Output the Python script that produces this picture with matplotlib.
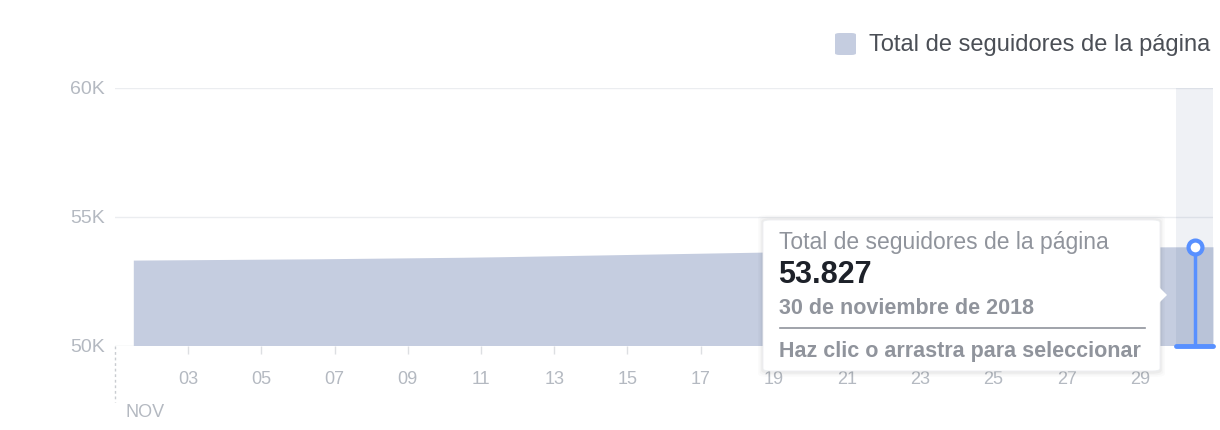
import numpy as np
import matplotlib
matplotlib.use("Agg")
import matplotlib.pyplot as plt
from matplotlib.patches import FancyBboxPatch, Polygon
from matplotlib.lines import Line2D

plt.rcParams["font.family"] = ["Liberation Sans", "DejaVu Sans"]

# daily total page followers, November 2018
days = list(range(1, 31))
followers = [53310, 53320, 53330, 53340, 53350, 53360, 53375, 53390, 53405, 53420,
             53440, 53465, 53490, 53515, 53540, 53565, 53590, 53615, 53640, 53665,
             53690, 53715, 53740, 53760, 53780, 53795, 53810, 53818, 53823, 53827]
tick_days = list(range(3, 30, 2))
tick_labels = [f"{d:02d}" for d in tick_days]
y_ticks = [50000, 55000, 60000]
y_labels = ["50K", "55K", "60K"]
month_label = "NOV"
series_name = "Total de seguidores de la página"
selected_day = 30
selected_date = "30 de noviembre de 2018"
hint_text = "Haz clic o arrastra para seleccionar"

AREA = "#c5cde0"
GRID = "#ebedf0"
LABEL = "#b4b9c1"
TIP = "#90949c"
BLUE = "#5890ff"
W, H = 1220, 430


def fx(px):
    return px / W


def fy(py):
    return 1 - py / H


fig = plt.figure(figsize=(W / 100, H / 100), dpi=100)
ax = fig.add_axes([fx(115), fy(345.5), fx(1213) - fx(115), fy(87.5) - fy(345.5)])

x = np.array(days) + 0.5
y = np.array(followers)
# last day's block runs to the end of the axis
x_fill = np.append(x, x[-1] + 0.5)
y_fill = np.append(y, y[-1])
ax.fill_between(x_fill, 50000, y_fill, color=AREA, lw=0, zorder=2)

ax.set_xlim(1, 31)
ax.set_ylim(50000, 60000)

# selected-day highlight band
ax.axvspan(selected_day, selected_day + 1, color="#2a4a80", alpha=0.075, lw=0, zorder=3)

for v in y_ticks[1:]:
    ax.axhline(v, color=GRID, lw=1, zorder=1)
ax.axhline(50000, color="#e4e6ea", lw=1, zorder=1)

for s in ax.spines.values():
    s.set_visible(False)

ax.set_xticks(tick_days)
ax.set_xticklabels(tick_labels)
ax.set_yticks(y_ticks)
ax.set_yticklabels(y_labels)
ax.tick_params(axis="x", length=6, width=1, color="#dddfe2", labelcolor=LABEL,
               labelsize=13, pad=12)
ax.tick_params(axis="y", length=0, labelcolor=LABEL, labelsize=14, pad=7.5)

# dashed month separator and label
ax.plot([1, 1], [50000, 47800], color="#c9ccd1", lw=1, ls=(0, (2, 2)),
        clip_on=False, zorder=1)
ax.text(1.3, 47400, month_label, color=LABEL, fontsize=13, ha="left", va="center")

# selector
sel_x = selected_day + 0.5
sel_y = followers[days.index(selected_day)]
ax.plot([sel_x, sel_x], [50000, sel_y], color=BLUE, lw=2.5, zorder=5, solid_capstyle="butt")
ax.plot([selected_day, selected_day + 1], [50000, 50000], color=BLUE, lw=3.5,
        zorder=5, clip_on=False, solid_capstyle="round")
ax.plot([sel_x], [sel_y], marker="o", ms=10, mfc="white", mec=BLUE, mew=3, zorder=6)

# legend
fig.patches.append(FancyBboxPatch((fx(835), fy(55)), fx(856) - fx(835), fy(33) - fy(55),
                                  boxstyle="round,pad=0,rounding_size=0.004",
                                  transform=fig.transFigure, fc=AREA, ec="none"))
fig.text(fx(869), fy(45), series_name, fontsize=17, color="#4b4f56", va="center", ha="left")

# tooltip shadow + box
for i, a in enumerate([0.015, 0.025, 0.035]):
    g = 5 - i * 1.6
    fig.patches.append(FancyBboxPatch((fx(763 - g), fy(371 + g + 1)),
                                      fx(1160 + g) - fx(763 - g), fy(220 - g) - fy(371 + g + 1),
                                      boxstyle="round,pad=0,rounding_size=0.008",
                                      transform=fig.transFigure, fc="black", ec="none",
                                      alpha=a, zorder=8))
fig.patches.append(FancyBboxPatch((fx(763), fy(371)), fx(1160) - fx(763), fy(220) - fy(371),
                                  boxstyle="round,pad=0,rounding_size=0.006",
                                  transform=fig.transFigure, fc="white", ec="#eceef1",
                                  lw=0.6, zorder=9))
fig.patches.append(Polygon([(fx(1159), fy(287)), (fx(1167), fy(295)), (fx(1159), fy(303))],
                           closed=True, transform=fig.transFigure, fc="white",
                           ec="none", zorder=10))

fig.text(fx(779), fy(242), series_name, fontsize=16.5, color=TIP,
         va="center", ha="left", zorder=11)
fig.text(fx(778), fy(275), f"{sel_y:,}".replace(",", "."), fontsize=22, color="#1d2129",
         fontweight="bold", va="center", ha="left", zorder=11)
fig.text(fx(779), fy(309), selected_date, fontsize=15.5, color=TIP,
         fontweight="bold", va="center", ha="left", zorder=11)
fig.lines.append(Line2D([fx(780), fx(1145)], [fy(328), fy(328)], transform=fig.transFigure,
                        color=TIP, lw=1.2, zorder=11))
fig.text(fx(779), fy(351), hint_text, fontsize=15.5, color=TIP,
         fontweight="bold", va="center", ha="left", zorder=11)

fig.savefig("out.png", dpi=100)
